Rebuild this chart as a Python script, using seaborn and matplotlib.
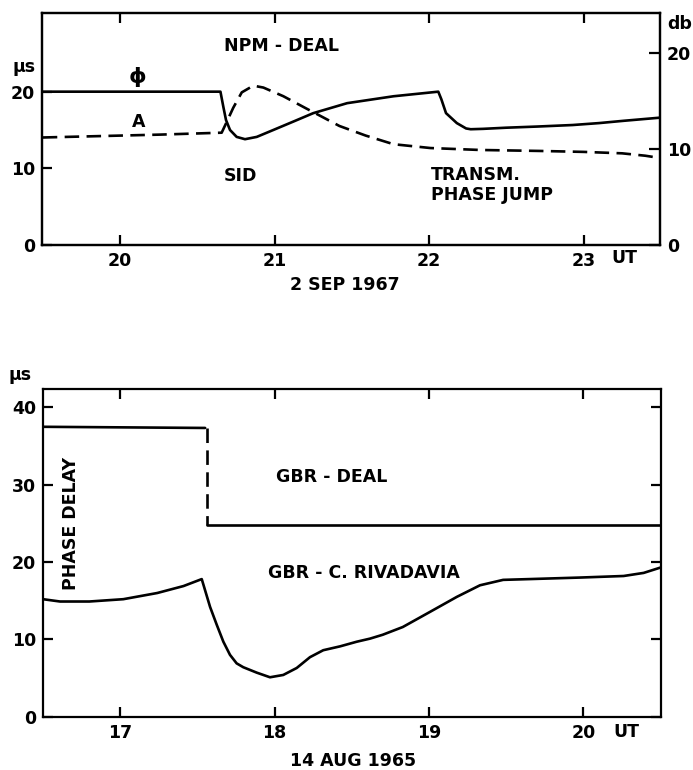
import matplotlib
matplotlib.use("Agg")
import matplotlib.pyplot as plt
import seaborn as sns
import pandas as pd

# ---- NPM - DEAL, 2 Sep 1967 ----
phi_hours = [19.50, 20.00, 20.65, 20.669, 20.686, 20.712, 20.755, 20.809, 20.885, 20.992,
             21.122, 21.251, 21.47, 21.77, 22.06, 22.08, 22.11, 22.18, 22.24, 22.27,
             22.35, 22.50, 22.70, 22.93, 23.10, 23.26, 23.49]
phi_us = [20.0, 20.0, 20.0, 18.0, 16.3, 15.0, 14.1, 13.8, 14.1, 15.0,
          16.1, 17.2, 18.5, 19.4, 20.0, 19.0, 17.2, 15.9, 15.2, 15.1,
          15.15, 15.3, 15.45, 15.65, 15.9, 16.2, 16.6]

amp_hours = [19.50, 20.26, 20.658, 20.69, 20.733, 20.788, 20.863, 20.928, 21.057, 21.208,
             21.273, 21.42, 21.59, 21.77, 22.01, 22.33, 22.71, 23.00, 23.25, 23.40, 23.48]
amp_db = [11.2, 11.5, 11.7, 12.8, 14.3, 15.9, 16.6, 16.4, 15.5, 14.2,
          13.65, 12.4, 11.4, 10.5, 10.1, 9.9, 9.8, 9.7, 9.55, 9.3, 9.1]

# ---- GBR paths, 14 Aug 1965 ----
deal_hours_before = [16.50, 17.55]
deal_us_before = [37.5, 37.35]
deal_jump_hours = [17.56, 17.56]
deal_jump_us = [37.35, 24.85]
deal_hours_after = [17.56, 20.50]
deal_us_after = [24.85, 24.85]

riv_hours = [16.50, 16.61, 16.80, 17.02, 17.24, 17.41, 17.528, 17.549, 17.582, 17.625,
             17.668, 17.711, 17.754, 17.797, 17.884, 17.970, 18.056, 18.143, 18.229,
             18.315, 18.424, 18.532, 18.618, 18.70, 18.83, 19.01, 19.18, 19.33,
             19.48, 19.65, 19.98, 20.26, 20.39, 20.50]
riv_us = [15.2, 14.9, 14.9, 15.2, 16.0, 16.9, 17.8, 16.4, 14.2, 11.9,
          9.7, 8.0, 6.9, 6.4, 5.7, 5.1, 5.4, 6.3, 7.7,
          8.6, 9.1, 9.7, 10.1, 10.6, 11.6, 13.6, 15.5, 17.0,
          17.7, 17.8, 18.0, 18.2, 18.6, 19.3]

top_xticks = [20, 21, 22, 23]
top_us_ticks = [0, 10, 20]
top_db_ticks = [0, 10, 20]
bot_xticks = [17, 18, 19, 20]
bot_us_ticks = [0, 10, 20, 30, 40]

sns.set_theme(style="ticks")
plt.rcParams["font.family"] = ["DejaVu Sans"]
plt.rcParams["font.weight"] = "bold"
plt.rcParams["text.color"] = "black"
plt.rcParams["axes.labelcolor"] = "black"
plt.rcParams["xtick.color"] = "black"
plt.rcParams["ytick.color"] = "black"
plt.rcParams["axes.edgecolor"] = "black"

W, H = 693, 770
fig = plt.figure(figsize=(W / 100, H / 100), dpi=100)
fig.patch.set_facecolor("white")

LW = 1.9
DASH = (0, (5.5, 2.8))
FS = 12.5


def px(x, y):
    return x / W, 1 - y / H


def style_axes(ax, xt, yt):
    ax.set_facecolor("white")
    for s in ax.spines.values():
        s.set_linewidth(1.6)
        s.set_color("black")
        s.set_visible(True)
    ax.set_xticks(xt)
    ax.set_yticks(yt)
    ax.tick_params(axis="both", direction="in", length=7, width=1.6, colors="black",
                   labelsize=FS, pad=5)
    ax.tick_params(axis="x", top=True, bottom=True)
    ax.set_xlabel("")
    ax.set_ylabel("")
    for lbl in ax.get_xticklabels() + ax.get_yticklabels():
        lbl.set_fontweight("bold")
        lbl.set_color("black")


# ---------------- upper panel ----------------
l, b = px(42.3, 245)
ax1 = fig.add_axes([l, b, (660 - 42.3) / W, (245 - 12.7) / H])
df_phi = pd.DataFrame({"UT": phi_hours, "us": phi_us})
sns.lineplot(data=df_phi, x="UT", y="us", ax=ax1, color="black", lw=LW,
             sort=False, estimator=None)
ax1.set_xlim(19.497, 23.495)
ax1.set_ylim(0, 30.3)
style_axes(ax1, top_xticks, top_us_ticks)
ax1.tick_params(axis="y", right=False)

ax2 = ax1.twinx()
df_amp = pd.DataFrame({"UT": amp_hours, "db": amp_db})
sns.lineplot(data=df_amp, x="UT", y="db", ax=ax2, color="black", lw=LW,
             sort=False, estimator=None)
ax2.get_lines()[-1].set_linestyle(DASH)
ax2.set_ylim(0, 24.2)
ax2.set_yticks(top_db_ticks)
ax2.set_ylabel("")
ax2.tick_params(axis="y", direction="in", length=8, width=1.6, labelsize=FS, pad=5,
                colors="black")
for lbl in ax2.get_yticklabels():
    lbl.set_fontweight("bold")
for s in ax2.spines.values():
    s.set_linewidth(1.6)
    s.set_color("black")

txt = dict(fontsize=FS, fontweight="bold", color="black", ha="center", va="center")
fig.text(*px(24, 67), "\u03bcs", **txt)
fig.text(*px(680, 24), "db", **txt)
fig.text(*px(282, 46), "NPM - DEAL", **txt)
fig.text(*px(137, 77), "\u03d5", fontsize=16, fontweight="bold", color="black",
         ha="center", va="center")
fig.text(*px(139, 122), "A", **txt)
fig.text(*px(240, 176), "SID", **txt)
fig.text(*px(431, 175), "TRANSM.", fontsize=FS, fontweight="bold", color="black",
         ha="left", va="center")
fig.text(*px(431, 195), "PHASE JUMP", fontsize=FS, fontweight="bold", color="black",
         ha="left", va="center")
fig.text(*px(624, 258), "UT", **txt)
fig.text(*px(345, 285), "2 SEP 1967", **txt)

# ---------------- lower panel ----------------
l, b = px(43, 716.7)
ax3 = fig.add_axes([l, b, (660.5 - 43) / W, (716.7 - 389.3) / H])
sns.lineplot(x=deal_hours_before, y=deal_us_before, ax=ax3, color="black", lw=LW,
             sort=False, estimator=None)
sns.lineplot(x=deal_jump_hours, y=deal_jump_us, ax=ax3, color="black", lw=LW,
             sort=False, estimator=None)
ax3.get_lines()[-1].set_linestyle(DASH)
sns.lineplot(x=deal_hours_after, y=deal_us_after, ax=ax3, color="black", lw=LW,
             sort=False, estimator=None)
df_riv = pd.DataFrame({"UT": riv_hours, "us": riv_us})
sns.lineplot(data=df_riv, x="UT", y="us", ax=ax3, color="black", lw=LW,
             sort=False, estimator=None)
ax3.set_xlim(16.5, 20.499)
ax3.set_ylim(0, 42.35)
style_axes(ax3, bot_xticks, bot_us_ticks)
ax3.tick_params(axis="y", left=True, right=True)

fig.text(*px(20, 375), "\u03bcs", **txt)
fig.text(*px(71, 523), "PHASE DELAY", rotation=90, **txt)
fig.text(*px(332, 477), "GBR - DEAL", **txt)
fig.text(*px(364, 573), "GBR - C. RIVADAVIA", **txt)
fig.text(*px(626, 732), "UT", **txt)
fig.text(*px(353, 761), "14 AUG 1965", **txt)

fig.savefig("out.png", dpi=100, facecolor="white")
